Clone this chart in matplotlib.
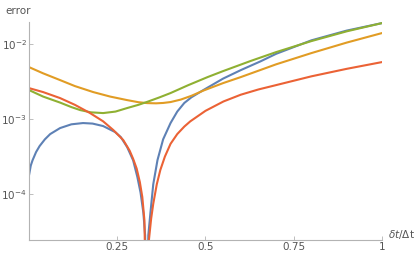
import numpy as np
import matplotlib.pyplot as plt

# values: x = dt/Dt, log10(error)
x_blue = [0, 0.005, 0.01, 0.02, 0.03, 0.045, 0.06, 0.088, 0.12, 0.153, 0.18,
          0.21, 0.244, 0.26, 0.278, 0.295, 0.307, 0.316, 0.324, 0.329, 0.3333,
          0.338, 0.344, 0.352, 0.364, 0.38, 0.401, 0.42, 0.44, 0.46, 0.494,
          0.55, 0.6, 0.656, 0.7, 0.8, 0.9, 1.0]
lg_blue = [-3.75, -3.62, -3.55, -3.44, -3.36, -3.27, -3.20, -3.12, -3.07, -3.053,
           -3.06, -3.093, -3.173, -3.24, -3.373, -3.55, -3.773, -3.98, -4.25,
           -4.55, -6.0, -4.55, -4.25, -3.87, -3.547, -3.27, -3.053, -2.90,
           -2.785, -2.71, -2.613, -2.46, -2.347, -2.23, -2.13, -1.95, -1.82, -1.72]

x_red = [0, 0.04, 0.088, 0.13, 0.173, 0.21, 0.239, 0.267, 0.285, 0.295, 0.305,
         0.314, 0.321, 0.327, 0.3333, 0.34, 0.346, 0.352, 0.362, 0.372, 0.385,
         0.401, 0.42, 0.44, 0.457, 0.5, 0.551, 0.6, 0.65, 0.7, 0.8, 0.9, 1.0]
lg_red = [-2.587, -2.64, -2.72, -2.81, -2.92, -3.03, -3.147, -3.28, -3.42, -3.53,
          -3.66, -3.84, -4.04, -4.35, -6.0, -4.6, -4.33, -4.13, -3.87, -3.68,
          -3.50, -3.33, -3.20, -3.10, -3.03, -2.89, -2.765, -2.675, -2.605,
          -2.547, -2.43, -2.33, -2.24]

x_orange = [0, 0.04, 0.088, 0.13, 0.182, 0.23, 0.278, 0.31, 0.335, 0.36, 0.38,
            0.401, 0.43, 0.46, 0.494, 0.55, 0.6, 0.65, 0.7, 0.8, 0.9, 1.0]
lg_orange = [-2.307, -2.39, -2.48, -2.56, -2.64, -2.70, -2.747, -2.775, -2.787,
             -2.79, -2.785, -2.773, -2.74, -2.69, -2.62, -2.52, -2.44, -2.355,
             -2.27, -2.12, -1.98, -1.853]

x_green = [0, 0.04, 0.088, 0.12, 0.145, 0.175, 0.21, 0.245, 0.278, 0.31, 0.335,
           0.37, 0.401, 0.45, 0.506, 0.55, 0.628, 0.7, 0.8, 0.9, 1.0]
lg_green = [-2.613, -2.70, -2.78, -2.84, -2.88, -2.91, -2.92, -2.90, -2.853,
            -2.81, -2.77, -2.71, -2.653, -2.55, -2.44, -2.36, -2.225, -2.107,
            -1.96, -1.83, -1.72]

x_ticks = [0.25, 0.5, 0.75, 1]
x_labels = ["0.25", "0.5", "0.75", "1"]
y_ticks = [1e-4, 1e-3, 1e-2]
y_labels = ["$10^{-4}$", "$10^{-3}$", "$10^{-2}$"]

fig = plt.figure(figsize=(4.15, 2.59), dpi=100)
ax = fig.add_axes([0.0699, 0.0734, 0.8505, 0.8416])

curves = [(x_blue, lg_blue, "#5E81B5"),
          (x_orange, lg_orange, "#E19C24"),
          (x_green, lg_green, "#8FB032"),
          (x_red, lg_red, "#EB6235")]
for xs, lg, col in curves:
    ax.plot(xs, 10 ** np.array(lg), color=col, lw=1.5,
            solid_joinstyle="round")

ax.set_yscale("log")
ax.set_xlim(0, 1)
ax.set_ylim(2.44e-5, 1.97e-2)

ax.set_xticks(x_ticks)
ax.set_xticklabels(x_labels)
ax.set_yticks(y_ticks)
ax.set_yticklabels(y_labels)
ax.minorticks_off()

for s in ["top", "right"]:
    ax.spines[s].set_visible(False)
for s in ["left", "bottom"]:
    ax.spines[s].set_color("#b3b3b3")
    ax.spines[s].set_linewidth(0.8)
ax.tick_params(direction="in", length=3, width=0.6, color="#b3b3b3",
               labelcolor="#555555", labelsize=7.5, pad=1.5)

fig.text(0.012, 0.975, "error", color="#555555", fontsize=7.5, va="top")
fig.text(0.935, 0.095, r"$\delta t / \Delta$t", color="#555555", fontsize=7.5,
         va="center")

fig.savefig("out.png", dpi=100)
